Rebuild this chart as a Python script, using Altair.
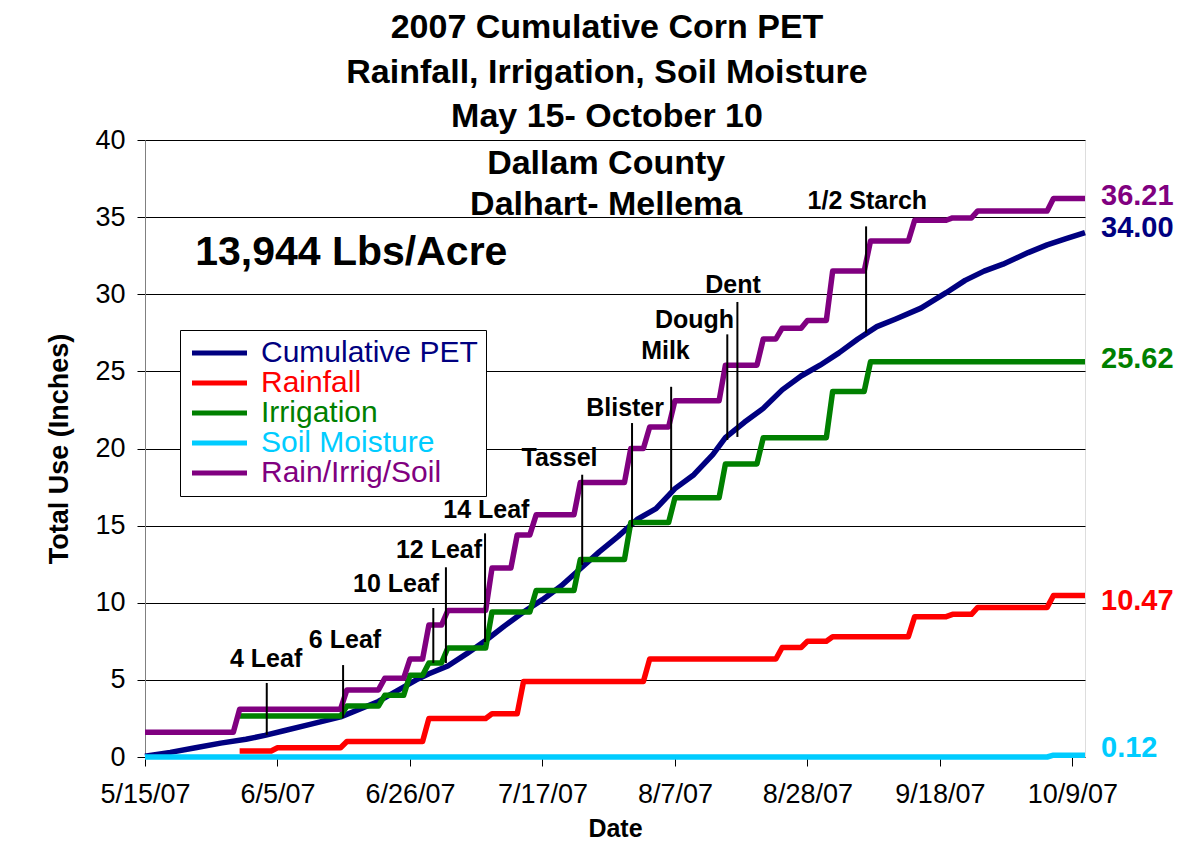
import altair as alt
import pandas as pd

FONT = "Liberation Sans"
START = pd.Timestamp("2007-05-15")

# ---- series (day offset from 5/15/07, cumulative inches) ----
series_names = ["Cumulative PET", "Rainfall", "Irrigation", "Soil Moisture", "Rain/Irrig/Soil"]
series_colors = ["#000080", "#FF0000", "#008000", "#00CCFF", "#800080"]

pet_day = [0, 4, 8, 12, 16, 19, 22, 26, 31, 34, 37, 40, 43, 45, 48, 51, 54, 57, 60, 63, 66, 69,
           72, 75, 78, 81, 84, 87, 90, 92, 95, 98, 101, 104, 107, 110, 113, 116, 119, 123, 127,
           130, 133, 136, 140, 143, 146, 149]
pet_val = [0.05, 0.3, 0.6, 0.9, 1.15, 1.4, 1.7, 2.1, 2.6, 3.1, 3.6, 4.3, 5.0, 5.4, 5.9, 6.7, 7.55,
           8.5, 9.4, 10.2, 11.1, 12.2, 13.3, 14.3, 15.4, 16.1, 17.4, 18.3, 19.6, 20.7, 21.7, 22.6,
           23.8, 24.7, 25.4, 26.2, 27.1, 27.9, 28.4, 29.1, 30.1, 30.9, 31.5, 31.95, 32.7, 33.2,
           33.6, 34.0]

rain_day = [15, 20, 21, 31, 32, 44, 45, 54, 55, 59, 60, 79, 80, 100, 101, 104, 105, 108, 109,
            121, 122, 127, 128, 131, 132, 143, 144, 149]
rain_val = [0.39, 0.39, 0.6, 0.6, 1.0, 1.0, 2.5, 2.5, 2.8, 2.8, 4.9, 4.9, 6.35, 6.35, 7.1, 7.1,
            7.5, 7.5, 7.8, 7.8, 9.1, 9.1, 9.25, 9.25, 9.7, 9.7, 10.47, 10.47]

irr_day = [15, 31, 32, 37, 38, 41, 42, 44, 45, 47, 48, 54, 55, 61, 62, 68, 69, 76, 77, 83, 84,
           91, 92, 97, 98, 108, 109, 114, 115, 149]
irr_val = [2.65, 2.65, 3.3, 3.3, 4.0, 4.0, 5.3, 5.3, 6.1, 6.1, 7.07, 7.07, 9.4, 9.4, 10.8, 10.8,
           12.8, 12.8, 15.2, 15.2, 16.8, 16.8, 19.0, 19.0, 20.7, 20.7, 23.7, 23.7, 25.62, 25.62]

soil_day = [0, 143, 144, 149]
soil_val = [0.0, 0.0, 0.12, 0.12]

total_day = [0, 14, 15, 31, 32, 37, 38, 41, 42, 44, 45, 47, 48, 54, 55, 58, 59, 61, 62, 68, 69,
             76, 77, 79, 80, 83, 84, 91, 92, 97, 98, 100, 101, 104, 105, 108, 109, 114, 115,
             121, 122, 127, 128, 131, 132, 143, 144, 149]
total_val = [1.6, 1.6, 3.1, 3.1, 4.35, 4.35, 5.1, 5.1, 6.35, 6.35, 8.55, 8.55, 9.5, 9.5, 12.25,
             12.25, 14.4, 14.4, 15.7, 15.7, 17.8, 17.8, 20.0, 20.0, 21.4, 21.4, 23.1, 23.1, 25.4,
             25.4, 27.1, 27.1, 27.8, 27.8, 28.3, 28.3, 31.5, 31.5, 33.45, 33.45, 34.8, 34.8,
             34.95, 34.95, 35.4, 35.4, 36.21, 36.21]

# ---- end-of-season labels ----
end_text = ["34.00", "10.47", "25.62", "0.12", "36.21"]
end_label_val = [34.3, 10.1, 25.8, 0.6, 36.4]
end_day = 149

# ---- growth stages ----
stage_names = ["4 Leaf", "6 Leaf", "10 Leaf", "12 Leaf", "14 Leaf", "Tassel", "Blister",
               "Milk", "Dough", "Dent", "1/2 Starch"]
stage_day = [19.3, 31.4, 45.7, 47.7, 53.9, 69.3, 77.2, 83.4, 92.3, 93.9, 114.3]
stage_top = [4.8, 5.96, 9.66, 12.3, 14.5, 18.3, 21.65, 24.0, 27.4, 29.5, 34.4]
stage_bottom = [1.43, 2.53, 6.09, 6.09, 7.45, 12.45, 14.9, 17.3, 20.55, 20.75, 27.5]
stage_label_day = [19.2, 31.7, 39.8, 46.6, 54.1, 65.7, 76.1, 82.5, 87.1, 93.2, 114.5]
stage_label_val = [6.35, 7.6, 11.2, 13.4, 16.0, 19.4, 22.6, 26.3, 28.3, 30.6, 36.05]

# ---- other text ----
info_text = ["Dallam County", "Dalhart- Mellema"]
info_day = [73.1, 73.1]
info_val = [38.45, 35.8]
yield_text = "13,944 Lbs/Acre"
yield_day = 32.7
yield_val = 32.65

title_lines = ["2007 Cumulative Corn PET", "Rainfall, Irrigation, Soil Moisture",
               "May 15- October 10"]
tick_dates = [(5, 15), (6, 5), (6, 26), (7, 17), (8, 7), (8, 28), (9, 18), (10, 9)]


def to_date(days):
    return [START + pd.Timedelta(days=float(d)) for d in days]


frames = []
for name, days, vals in zip(series_names,
                            [pet_day, rain_day, irr_day, soil_day, total_day],
                            [pet_val, rain_val, irr_val, soil_val, total_val]):
    frames.append(pd.DataFrame({"series": name, "date": to_date(days), "value": vals}))
lines_df = pd.concat(frames, ignore_index=True)

end_df = pd.DataFrame({"series": series_names, "label": end_text,
                       "date": to_date([end_day] * 5), "value": end_label_val})
stage_df = pd.DataFrame({"stage": stage_names, "date": to_date(stage_day), "top": stage_top,
                         "bottom": stage_bottom, "ldate": to_date(stage_label_day),
                         "lval": stage_label_val})
info_df = pd.DataFrame({"text": info_text, "date": to_date(info_day), "value": info_val})
yield_df = pd.DataFrame({"text": [yield_text], "date": to_date([yield_day]), "value": [yield_val]})

label_color_expr = ""
for n, c in zip(series_names[:-1], series_colors[:-1]):
    label_color_expr += f"datum.value == '{n}' ? '{c}' : "
label_color_expr += f"'{series_colors[-1]}'"

x_scale = alt.Scale(domain=[alt.DateTime(year=2007, month=5, date=15),
                            alt.DateTime(year=2007, month=10, date=11)], nice=False)
y_scale = alt.Scale(domain=[0, 40], nice=False)
color_scale = alt.Scale(domain=series_names, range=series_colors)

x_axis = alt.Axis(values=[alt.DateTime(year=2007, month=m, date=d) for m, d in tick_dates],
                  format="%-m/%-d/%y", grid=False, tickSize=9, tickColor="black",
                  domainColor="#808080", labelFontSize=27, labelFont=FONT, labelColor="black",
                  labelPadding=15, labelFlush=False, title="Date", titleFontSize=25,
                  titleFont=FONT, titleFontWeight="bold", titleColor="black", titlePadding=9)
y_axis = alt.Axis(values=list(range(0, 41, 5)), grid=True, gridColor="black", gridWidth=1,
                  gridOpacity=1, tickSize=8, tickColor="black", domainColor="#808080",
                  labelFontSize=27, labelFont=FONT, labelColor="black", labelPadding=12,
                  title="Total Use (Inches)", titleFontSize=27, titleFont=FONT,
                  titleFontWeight="bold", titleColor="black", titlePadding=21)

# a wide, short line symbol (drawn to the right of its anchor) so each legend row
# stays as tall as its label
legend = alt.Legend(title=None, orient="none", legendX=35, legendY=190,
                    symbolType="M-1,0H4", symbolSize=484, symbolStrokeWidth=5,
                    labelFontSize=30, labelFont=FONT, fillColor="white", strokeColor="black",
                    padding=8, labelOffset=43, rowPadding=0, labelLimit=0, symbolOpacity=1,
                    symbolFillColor="transparent",
                    labelColor=alt.ExprRef(expr=label_color_expr))

lines = alt.Chart(lines_df).mark_line(strokeWidth=5.5, strokeJoin="round").encode(
    x=alt.X("date:T", scale=x_scale, axis=x_axis),
    y=alt.Y("value:Q", scale=y_scale, axis=y_axis),
    color=alt.Color("series:N", scale=color_scale, legend=legend, sort=series_names),
    detail="series:N",
)

stage_rules = alt.Chart(stage_df).mark_rule(color="black", strokeWidth=2).encode(
    x="date:T", y="top:Q", y2="bottom:Q")

stage_text = alt.Chart(stage_df).mark_text(
    font=FONT, fontSize=25, fontWeight="bold", color="black", baseline="middle",
    align="center").encode(x="ldate:T", y="lval:Q", text="stage:N")

end_labels = alt.Chart(end_df).mark_text(
    font=FONT, fontSize=29, fontWeight="bold", align="left", baseline="middle", dx=16).encode(
    x="date:T", y="value:Q", text="label:N",
    color=alt.Color("series:N", scale=color_scale, legend=None))

info = alt.Chart(info_df).mark_text(
    font=FONT, fontSize=34, fontWeight="bold", color="black", baseline="middle",
    align="center").encode(x="date:T", y="value:Q", text="text:N")

yield_label = alt.Chart(yield_df).mark_text(
    font=FONT, fontSize=41, fontWeight="bold", color="black", baseline="middle",
    align="center").encode(x="date:T", y="value:Q", text="text:N")

chart = alt.layer(lines, stage_rules, stage_text, end_labels, info, yield_label).properties(
    width=940, height=617,
    title=alt.TitleParams(text=title_lines, fontSize=34, font=FONT, fontWeight="bold",
                          color="black", lineHeight=44.5, anchor="middle", dx=-8, offset=-8),
    autosize=alt.AutoSizeParams(type="none"),
    padding={"left": 137, "top": 132, "right": 95, "bottom": 86},
).configure_view(fill="#C0C0C0", stroke="#808080", strokeWidth=2
).configure(background="white")

chart.save("out.html", embed_options={"renderer": "svg", "actions": False})
